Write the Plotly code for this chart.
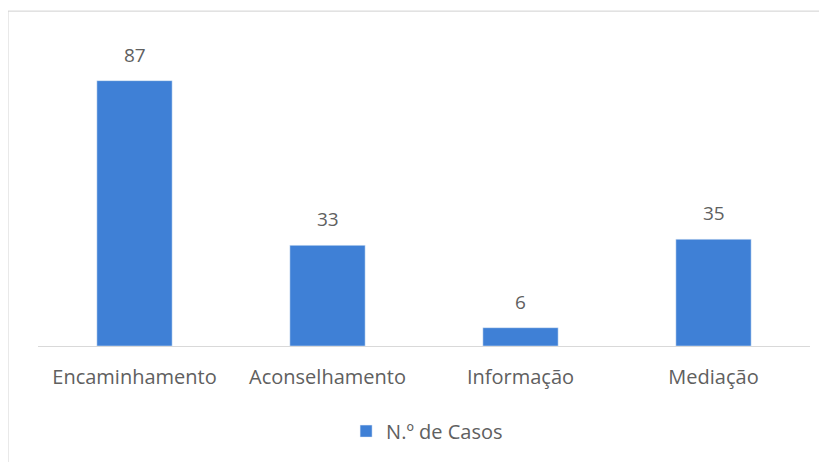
import plotly.graph_objects as go

categorias = ["Encaminhamento", "Aconselhamento", "Informação", "Mediação"]
casos = [87, 33, 6, 35]
serie = "N.º de Casos"

cor_barra = "#3f80d6"
cor_texto = "#606060"

fig = go.Figure()
fig.add_trace(go.Bar(
    name=serie,
    x=categorias,
    y=casos,
    marker_color=cor_barra,
    width=0.39,
    showlegend=True,
))

# rótulos dos valores por cima das barras
for c, v in zip(categorias, casos):
    fig.add_annotation(x=c, y=v, text=str(v), showarrow=False,
                       yanchor="bottom", yshift=11,
                       font=dict(size=19, color=cor_texto))

fig.update_layout(
    width=819, height=454,
    margin=dict(l=30, r=17, t=33, b=116),
    paper_bgcolor="white",
    plot_bgcolor="white",
    font=dict(family="Open Sans", size=20, color=cor_texto),
    xaxis=dict(showline=True, linecolor="#d9d9d9", linewidth=1,
               ticks="", showgrid=False, tickfont=dict(size=20),
               ticklabelstandoff=13),
    yaxis=dict(range=[0, 100], visible=False),
    legend=dict(orientation="h", x=0.504, xanchor="center", y=-0.279, yanchor="middle",
                font=dict(size=20, color=cor_texto)),
)

# moldura do gráfico
fig.add_shape(type="rect", xref="paper", yref="paper",
              x0=-0.0389, x1=1.1, y0=-0.6, y1=1.098,
              line=dict(color="#d0d0d0", width=1))

fig.write_html("out.html")
